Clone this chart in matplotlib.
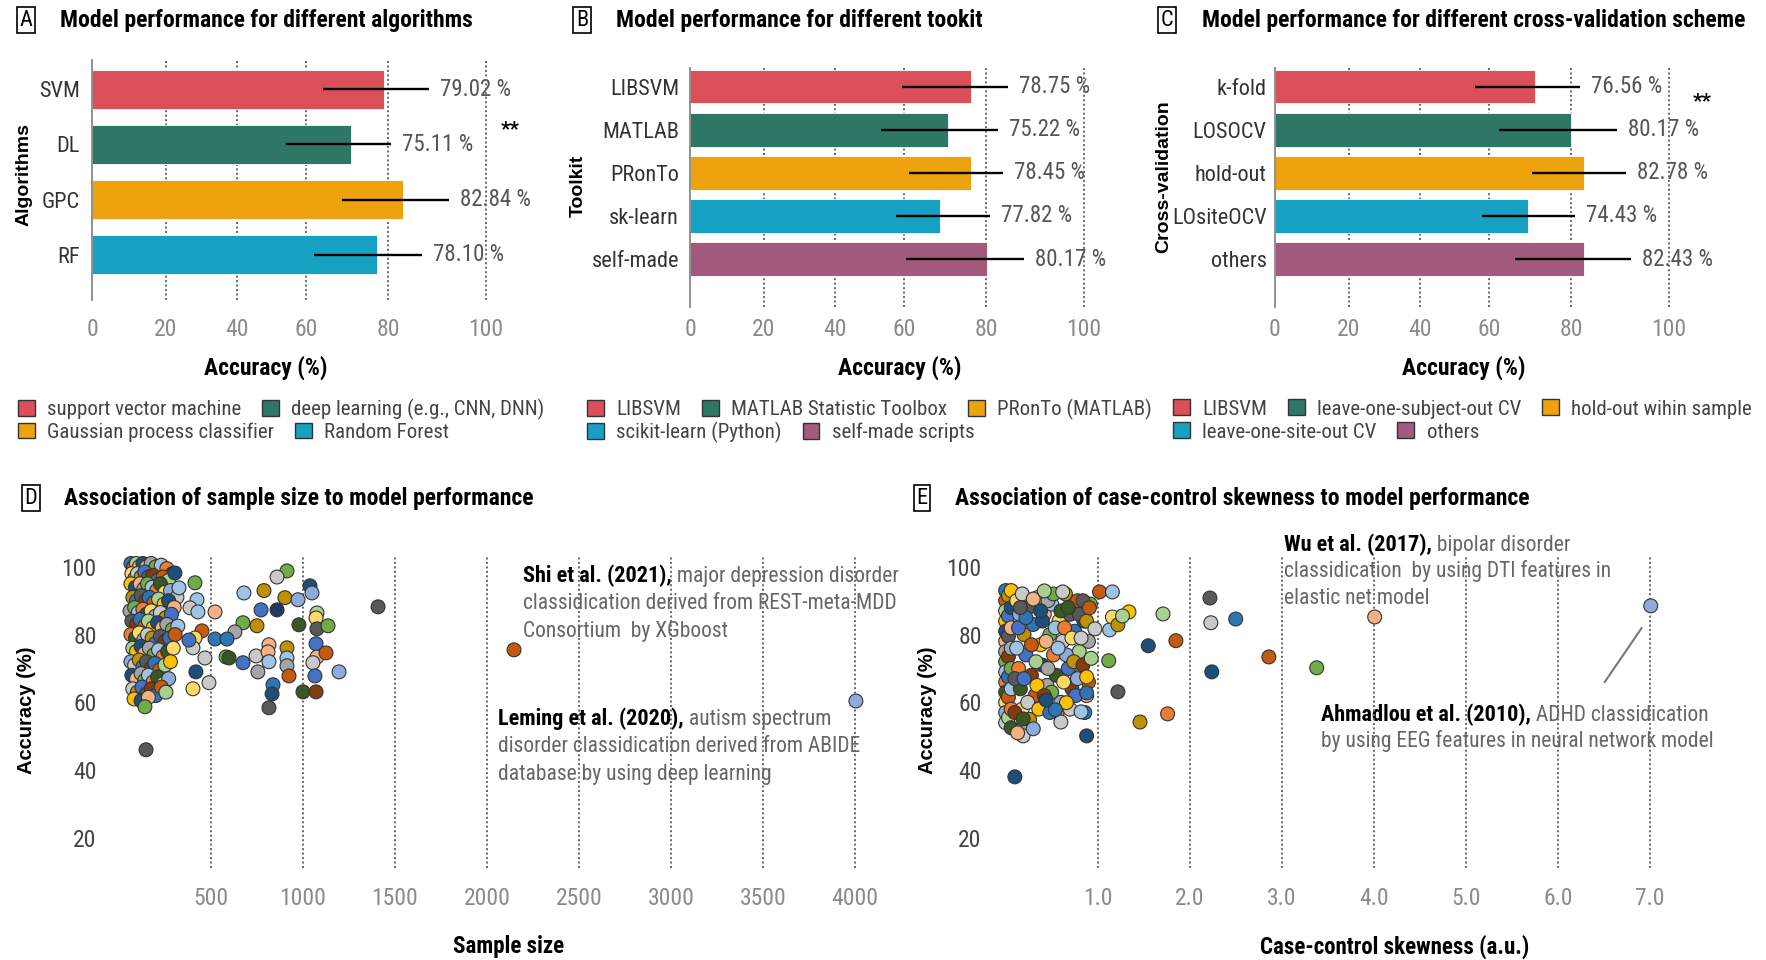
import numpy as np
import matplotlib
matplotlib.use('Agg')
import matplotlib.pyplot as plt
from matplotlib import font_manager as fm
from matplotlib.patches import Patch
from matplotlib.transforms import offset_copy

# ---------------- data ----------------
alg_names = ['SVM', 'DL', 'GPC', 'RF']
alg_acc = [79.0, 71.0, 83.0, 77.3]
alg_lo = [64.1, 54.2, 68.8, 62.0]
alg_hi = [88.4, 80.6, 92.4, 86.9]
alg_text = ['79.02 %', '75.11 %', '82.84 %', '78.10 %']
alg_legend = ['support vector machine', 'deep learning (e.g., CNN, DNN)',
              'Gaussian process classifier', 'Random Forest']

tool_names = ['LIBSVM', 'MATLAB', 'PRonTo', 'sk-learn', 'self-made']
tool_acc = [76.3, 70.7, 76.3, 68.8, 80.2]
tool_lo = [59.3, 53.3, 61.2, 57.7, 60.5]
tool_hi = [84.5, 82.4, 83.4, 80.8, 87.8]
tool_text = ['78.75 %', '75.22 %', '78.45 %', '77.82 %', '80.17 %']
tool_legend = ['LIBSVM', 'MATLAB Statistic Toolbox', 'PRonTo (MATLAB)',
               'scikit-learn (Python)', 'self-made scripts']

cv_names = ['k-fold', 'LOSOCV', 'hold-out', 'LOsiteOCV', 'others']
cv_acc = [71.1, 80.0, 82.7, 69.4, 82.7]
cv_lo = [56.0, 62.4, 70.4, 58.0, 66.3]
cv_hi = [81.9, 89.3, 91.2, 80.8, 92.2]
cv_text = ['76.56 %', '80.17 %', '82.78 %', '74.43 %', '82.43 %']
cv_legend = ['LIBSVM', 'leave-one-subject-out CV', 'hold-out wihin sample',
             'leave-one-site-out CV', 'others']

# panel D: sample size vs accuracy (dense cluster + single studies)
d_clu_size = [65, 80, 95, 110, 130, 150, 175, 200, 230, 260, 290,
              70, 85, 100, 120, 140, 160, 185, 210, 240, 270,
              65, 90, 115, 135, 155, 180, 205, 225, 250, 280, 315,
              75, 95, 120, 145, 165, 190, 215, 245, 270, 300,
              60, 85, 105, 130, 150, 175, 200, 225, 255, 285,
              70, 95, 115, 140, 160, 185, 210, 235, 260, 290, 320,
              65, 90, 110, 135, 155, 180, 200, 225, 250, 275, 305,
              75, 95, 120, 140, 165, 190, 215, 240, 265, 295,
              65, 85, 110, 130, 150, 175, 195, 220, 250, 280,
              70, 95, 120, 140, 160, 185, 210, 240, 270,
              75, 100, 125, 150, 175, 200, 230, 255,
              82, 120, 160]
d_clu_acc = [101, 100, 101, 100, 101, 100, 101, 100, 100.5, 99.5, 98,
             98, 96.5, 98, 97, 98.5, 97, 97.5, 96, 97, 96,
             95, 94, 95, 93.5, 95, 94, 93, 95, 92.5, 93, 91,
             91, 90, 91.5, 90, 91, 89.5, 90.5, 89, 90, 88,
             87, 88, 86.5, 87.5, 86, 87, 85.5, 86.5, 85, 86,
             84, 83, 84.5, 82.5, 84, 82, 83.5, 82, 83, 81.5, 82.5,
             80, 79, 80.5, 78.5, 80, 79, 77.5, 79.5, 78, 79, 80,
             76, 75, 76.5, 74.5, 76, 74, 75.5, 73.5, 75, 76,
             72, 71, 72.5, 70.5, 72, 70, 71.5, 69.5, 71, 72,
             68, 67, 68.5, 66.5, 68, 66, 67.5, 65.5, 67,
             64, 63, 64.5, 62.5, 64, 62, 64.5, 63,
             61, 60.5, 61.5]
d_size = [1408, 913, 859, 1038, 1049, 679, 788, 902, 973, 772, 859, 522,
          413, 424, 386, 429, 674, 750, 630, 451, 522, 587, 978, 1076,
          1071, 1076, 1136, 413, 402, 380, 467, 582, 598, 674, 745, 815,
          810, 815, 913, 913, 913, 755, 924, 1071, 1076, 1125, 1054, 1065,
          1196, 418, 402, 489, 837, 832, 815, 1000, 1071, 147, 141, 304,
          326, 2147, 4005]
d_acc = [88.2, 98.8, 97.0, 94.4, 92.3, 92.3, 93.0, 90.9, 90.3, 87.3, 87.3, 86.7,
         95.3, 90.3, 87.9, 86.7, 83.5, 82.6, 80.8, 81.1, 78.7, 78.7, 82.9, 86.4,
         84.9, 81.7, 82.6, 79.0, 76.1, 78.4, 73.1, 73.4, 73.1, 71.7, 73.7, 77.0,
         74.9, 72.0, 76.1, 73.1, 70.8, 69.0, 67.8, 77.3, 73.4, 74.6, 71.7, 67.8,
         69.0, 69.0, 64.0, 65.8, 65.2, 62.5, 58.4, 63.1, 63.1, 46.0, 58.7, 98.2,
         93.8, 75.5, 60.4]
d_col = ['dgy', 'gr', 'lgy', 'nv', 'pb', 'lb', 'ol', 'ol', 'pb', 'mb', 'dn', 'sa',
         'gr', 'lb', 'lgy', 'lb', 'gr', 'ol', 'gy', 'do', 'bl', 'bl', 'dg', 'lg',
         'ly', 'dgy', 'gr', 'ly', 'lgy', 'mb', 'lgy', 'gr', 'dg', 'mb', 'lgy', 'sa',
         'sa', 'lb', 'ol', 'lb', 'gy', 'gy', 'do', 'mb', 'sa', 'do', 'lgy', 'mb',
         'pb', 'nv', 'ly', 'lgy', 'bl', 'nv', 'dgy', 'dg', 'br', 'dgy', 'gr', 'nv',
         'lb', 'do', 'pb']

# panel E: case-control skewness vs accuracy
e_clu_skew = [0.0, 0.0, 0.0, 0.0, 0.0, 0.0, 0.0, 0.0, 0.0, 0.0, 0.0, 0.0, 0.0, 0.0,
              0.03, 0.03, 0.03, 0.03, 0.03, 0.03, 0.03,
              0.06, 0.06, 0.06, 0.06, 0.06, 0.06, 0.06, 0.06,
              0.12, 0.15, 0.18, 0.2, 0.22, 0.25, 0.28, 0.3, 0.32, 0.35, 0.38, 0.4,
              0.42, 0.45, 0.48, 0.5, 0.52, 0.55, 0.58, 0.6, 0.62, 0.65, 0.68, 0.7,
              0.72, 0.75, 0.78, 0.8, 0.82, 0.85, 0.88, 0.9, 0.92,
              0.12, 0.14, 0.16, 0.18, 0.2, 0.24, 0.26, 0.14, 0.1, 0.1, 0.22, 0.28,
              0.33, 0.36, 0.4, 0.44, 0.46, 0.5, 0.54, 0.56, 0.6, 0.63, 0.66, 0.7,
              0.74, 0.76, 0.8, 0.84, 0.86, 0.9, 0.93, 0.34, 0.38, 0.3, 0.46, 0.52,
              0.57, 0.64, 0.68, 0.72, 0.78, 0.82, 0.88, 0.2, 0.16, 0.42, 0.48]
e_clu_acc = [93, 90, 87, 84, 81, 78, 75, 72, 69, 66, 63, 60, 57, 54,
             91.5, 85.5, 79.5, 73.5, 67.5, 61.5, 55.5,
             93, 88, 82, 76, 70, 64, 58, 52.5,
             90, 86, 92, 80, 74, 88, 68, 83, 62, 91, 77, 71,
             86, 65, 80, 89, 74, 68, 84, 60, 78, 92, 70, 86,
             64, 81, 90, 75, 68, 84, 62, 78, 89,
             76, 70, 64, 58, 53, 60, 55, 82, 67, 57, 85, 77,
             72, 58, 84, 78, 90, 63, 82, 57, 87, 66, 74, 58,
             72, 62, 86, 71, 57, 66, 73, 65, 87, 90.5, 70, 92,
             76, 82, 88, 79, 67, 79, 84, 67, 88, 62, 57]
e_skew = [1.02, 1.16, 0.97, 1.13, 1.16, 1.22, 1.34, 1.27, 1.12, 1.22, 1.46, 1.55,
          1.71, 1.76, 1.85, 2.22, 2.23, 2.50, 2.24, 2.86, 3.38, 4.01, 7.01, 0.10,
          0.88, 0.19, 0.13, 0.30, 0.60, 0.19, 0.84, 0.91, 0.62, 0.42, 0.88, 0.88,
          0.82, 0.66, 0.54, 0.44]
e_acc = [92.6, 92.6, 81.7, 81.4, 85.2, 82.9, 86.7, 85.5, 72.3, 63.1, 54.2, 76.7,
         86.1, 56.6, 78.2, 90.8, 83.5, 84.6, 69.0, 73.4, 70.2, 85.2, 88.5, 38.0,
         50.1, 50.1, 51.0, 52.2, 54.2, 55.1, 90.0, 87.9, 92.6, 92.9, 67.5, 62.8,
         57.2, 59.9, 57.8, 60.7]
e_col = ['do', 'lb', 'lgy', 'lb', 'ly', 'ol', 'go', 'lg', 'gr', 'dgy', 'ol', 'nv',
         'lg', 'or', 'do', 'dgy', 'lgy', 'bl', 'nv', 'do', 'gr', 'sa', 'pb', 'nv',
         'nv', 'lgy', 'sa', 'pb', 'lgy', 'dg', 'dgy', 'do', 'lgy', 'lg', 'go', 'bl',
         'lb', 'go', 'bl', 'nv']

# ---------------- style ----------------
W, H = 1766, 960
names = {f.name for f in fm.fontManager.ttflist}
COND = next((n for n in ['Roboto Condensed', 'Liberation Sans Narrow', 'Arial Narrow',
                         'Open Sans Condensed', 'Roboto'] if n in names), 'DejaVu Sans')
WIDE = 'Liberation Sans' if 'Liberation Sans' in names else 'DejaVu Sans'
plt.rcParams['font.family'] = [COND, 'DejaVu Sans']

bar_colors = ['#DA4F58', '#2E7766', '#EEA20E', '#16A0C2', '#A25B7D']
pal = {'do': '#C55A11', 'or': '#ED7D31', 'sa': '#F4B183', 'br': '#843C0C',
       'bl': '#2E75B6', 'lb': '#9DC3E6', 'pb': '#8FAADC', 'mb': '#4472C4',
       'nv': '#1F4E79', 'dn': '#203864', 'gr': '#70AD47', 'lg': '#A9D18E',
       'dg': '#385723', 'go': '#FFC000', 'ly': '#FFD966', 'ol': '#BF9000',
       'gy': '#A5A5A5', 'lgy': '#C9C9C9', 'dgy': '#595959'}
cycle = ['bl', 'do', 'lg', 'go', 'nv', 'sa', 'gy', 'gr', 'lb', 'or', 'dg', 'ly',
         'pb', 'lgy', 'ol', 'mb', 'dgy', 'br']
DOT = (0, (1, 1.3))

fig = plt.figure(figsize=(W / 100, H / 100), dpi=100)
rend = fig.canvas.get_renderer()

knots_v = [-20, 0, 20, 40, 60, 80, 100, 120]
knots_p = [-73.5, 0, 73.5, 145, 214, 296, 394, 492]


def fwd(v):
    return np.interp(v, knots_v, knots_p)


def inv(p):
    return np.interp(p, knots_p, knots_v)


def box(px, py, w, h):
    return [px / W, 1 - (py + h) / H, w / W, h / H]


def panel_title(letter, lx, tx, y, title):
    fig.text(lx / W, 1 - y / H, letter, ha='center', va='center', fontsize=16,
             bbox=dict(boxstyle='square,pad=0.12', fc='white', ec='black', lw=1.2))
    fig.text(tx / W, 1 - y / H, title, ha='left', va='center', fontsize=17,
             weight='bold')


def bar_panel(rect, cats, acc, lo, hi, texts, ylim, bh, xpad, ypad):
    ax = fig.add_axes(rect)
    ax.set_xscale('function', functions=(fwd, inv))
    y = np.arange(len(cats))
    ax.barh(y, acc, height=bh, color=bar_colors[:len(cats)], edgecolor='white',
            lw=0.6, zorder=2)
    ax.hlines(y, lo, hi, color='black', lw=1.7, zorder=3)
    for yi, h, t in zip(y, hi, texts):
        ax.annotate(t, (h, yi), xytext=(8, 0), textcoords='offset points',
                    va='center', ha='left', fontsize=16.5, color='#555555',
                    zorder=0.5, annotation_clip=False)
    for v in [20, 40, 60, 80, 100]:
        ax.axvline(v, color='#666666', ls=DOT, lw=1.4, zorder=1)
    ax.set_xlim(0, 105)
    ax.set_ylim(*ylim)
    ax.set_yticks(y)
    ax.set_yticklabels(cats)
    ax.set_xticks([0, 20, 40, 60, 80, 100])
    ax.tick_params(axis='x', length=0, labelsize=17, labelcolor='#8a8a8a', pad=xpad)
    ax.tick_params(axis='y', length=0, labelsize=16, labelcolor='#333333', pad=ypad)
    for s in ['top', 'right', 'bottom']:
        ax.spines[s].set_visible(False)
    ax.spines['left'].set_color('#888888')
    ax.spines['left'].set_linewidth(1.3)
    return ax


def legend_row(labels, colors, x, y):
    handles = [Patch(facecolor=c, edgecolor='#333333', lw=1) for c in colors]
    fig.legend(handles, labels, loc='center left', bbox_to_anchor=(x / W, 1 - y / H),
               ncol=len(labels), frameon=False, fontsize=15, handlelength=0.8,
               handleheight=0.8, handletextpad=0.6, columnspacing=1.0,
               borderpad=0, borderaxespad=0, labelcolor='#444444')


def rich_note(ax, x, y, bold, lines, dy):
    tb = ax.text(x, y, bold, fontsize=16, weight='bold', color='black',
                 va='baseline', zorder=1)
    w = tb.get_window_extent(renderer=rend).width
    ax.text(x, y, ' ' + lines[0], fontsize=15.5, color='#666666', va='baseline',
            zorder=1, transform=offset_copy(ax.transData, fig=fig, x=w, y=0, units='dots'))
    for k, line in enumerate(lines[1:], 1):
        ax.text(x, y, line, fontsize=15.5, color='#666666', va='baseline', zorder=1,
                transform=offset_copy(ax.transData, fig=fig, x=0, y=-k * dy, units='dots'))


# ---------------- A ----------------
panel_title('A', 26, 60, 20, 'Model performance for different algorithms')
bar_panel(box(92, 60, 418.5, 240), alg_names, alg_acc, alg_lo, alg_hi, alg_text,
          (3.82, -0.53), 0.7, 13, 9)
fig.text(24 / W, 1 - 175 / H, 'Algorithms', rotation=90, ha='center', va='center',
         family=WIDE, weight='bold', fontsize=14)
fig.text(266 / W, 1 - 368 / H, 'Accuracy (%)', ha='center', va='center',
         weight='bold', fontsize=17)
fig.text(510 / W, 1 - 130 / H, '**', ha='center', va='center', weight='bold', fontsize=15)
legend_row(alg_legend[:2], bar_colors[:2], 18, 409)
legend_row(alg_legend[2:], bar_colors[2:4], 18, 432)

# ---------------- B ----------------
panel_title('B', 582, 616, 20, 'Model performance for different tookit')
bar_panel(box(690, 68, 418.5, 239), tool_names, tool_acc, tool_lo, tool_hi, tool_text,
          (5.11, -0.43), 0.78, 8, 8)
fig.text(578 / W, 1 - 186 / H, 'Toolkit', rotation=90, ha='center', va='center',
         family=WIDE, weight='bold', fontsize=14)
fig.text(900 / W, 1 - 368 / H, 'Accuracy (%)', ha='center', va='center',
         weight='bold', fontsize=17)
legend_row(tool_legend[:3], bar_colors[:3], 587, 409)
legend_row(tool_legend[3:], bar_colors[3:5], 587, 432)

# ---------------- C ----------------
panel_title('C', 1167, 1202, 20, 'Model performance for different cross-validation scheme')
bar_panel(box(1275, 68, 418.5, 239), cv_names, cv_acc, cv_lo, cv_hi, cv_text,
          (5.11, -0.43), 0.78, 8, 6)
fig.text(1164 / W, 1 - 177 / H, 'Cross-validation', rotation=90, ha='center',
         va='center', family=WIDE, weight='bold', fontsize=14)
fig.text(1464 / W, 1 - 368 / H, 'Accuracy (%)', ha='center', va='center',
         weight='bold', fontsize=17)
fig.text(1702 / W, 1 - 102 / H, '**', ha='center', va='center', weight='bold', fontsize=15)
legend_row(cv_legend[:3], bar_colors[:3], 1173, 409)
legend_row(cv_legend[3:], bar_colors[3:5], 1173, 432)


# ---------------- D / E ----------------
def scatter_panel(rect, xlim, xticks, xlabels, clu_x, clu_y, px, py, pc):
    ax = fig.add_axes(rect)
    cc = [pal[cycle[i % len(cycle)]] for i in range(len(clu_x))]
    ax.scatter(clu_x, clu_y, s=100, c=cc, edgecolors='#333333', linewidths=0.8, zorder=3)
    ax.scatter(px, py, s=100, c=[pal[k] for k in pc], edgecolors='#333333',
               linewidths=0.8, zorder=4)
    for v in xticks:
        ax.axvline(v, color='#666666', ls=DOT, lw=1.4, zorder=2)
    ax.set_xlim(*xlim)
    ax.set_ylim(11.1, 103.5)
    ax.set_xticks(xticks)
    ax.set_xticklabels(xlabels)
    ax.set_yticks([20, 40, 60, 80, 100])
    ax.tick_params(axis='x', length=0, labelsize=17, labelcolor='#8a8a8a', pad=14)
    ax.tick_params(axis='y', length=0, labelsize=17, labelcolor='#444444', pad=6)
    for s in ax.spines.values():
        s.set_visible(False)
    return ax


panel_title('D', 31, 64, 498, 'Association of sample size to model performance')
d_ticks = [500, 1000, 1500, 2000, 2500, 3000, 3500, 4000]
axd = scatter_panel(box(105, 555, 775, 313), (-76, 4136), d_ticks,
                    [str(t) for t in d_ticks], d_clu_size, d_clu_acc, d_size, d_acc, d_col)
rich_note(axd, 2196, 95.6, 'Shi et al. (2021),',
          ['major depression disorder', 'classidication derived from REST-meta-MDD',
           'Consortium  by XGboost'], 27.5)
rich_note(axd, 2060, 53.4, 'Leming et al. (2020),',
          ['autism spectrum', 'disorder classidication derived from ABIDE',
           'database by using deep learning'], 27.5)
fig.text(27 / W, 1 - 710 / H, 'Accuracy (%)', rotation=90, ha='center', va='center',
         family=WIDE, weight='bold', fontsize=14.5)
fig.text(509 / W, 1 - 947 / H, 'Sample size', ha='center', va='center',
         weight='bold', fontsize=16.5)

panel_title('E', 922, 955, 498, 'Association of case-control skewness to model performance')
e_ticks = [1.0, 2.0, 3.0, 4.0, 5.0, 6.0, 7.0]
axe = scatter_panel(box(990, 555, 750, 313), (-0.17, 7.98), e_ticks,
                    ['%.1f' % t for t in e_ticks], e_clu_skew, e_clu_acc, e_skew, e_acc, e_col)
axe.plot([6.91, 6.51], [81.9, 66.0], color='#777777', lw=1.5, zorder=2)
rich_note(axe, 3.03, 104.7, 'Wu et al. (2017),',
          ['bipolar disorder', 'classidication  by using DTI features in',
           'elastic net model'], 26.5)
rich_note(axe, 3.43, 54.5, 'Ahmadlou et al. (2010),',
          ['ADHD classidication', 'by using EEG features in neural network model'], 26)
fig.text(928 / W, 1 - 710 / H, 'Accuracy (%)', rotation=90, ha='center', va='center',
         family=WIDE, weight='bold', fontsize=14.5)
fig.text(1395 / W, 1 - 947 / H, 'Case-control skewness (a.u.)', ha='center',
         va='center', weight='bold', fontsize=16.5)

fig.savefig('out.png', dpi=100)
